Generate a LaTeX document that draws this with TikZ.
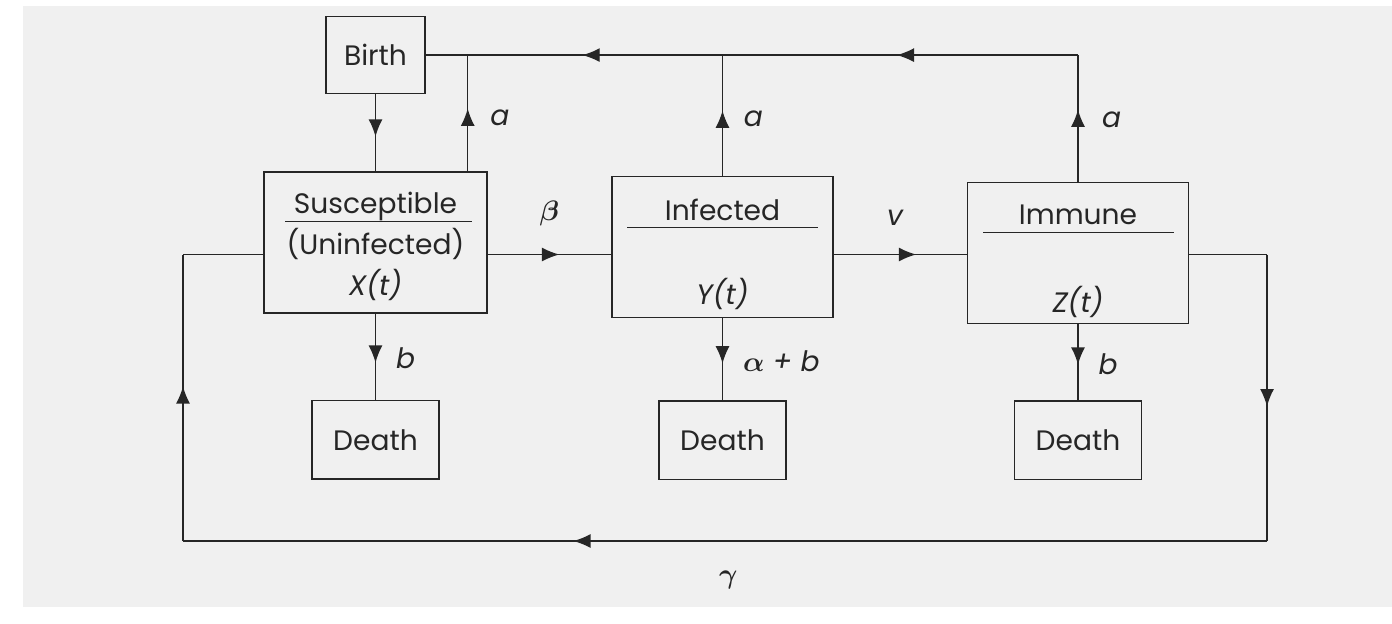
\documentclass[tikz,border=0pt]{standalone}
\usepackage{fontspec}
\setmainfont{Poppins}
\usepackage{xcolor}
\usepackage{tikz}
\usetikzlibrary{arrows.meta,positioning,decorations.markings}

\begin{document}
\begin{tikzpicture}[
  x=0.15mm, y=-0.15mm,
  font=\fontsize{12}{14}\selectfont,
  box/.style={rectangle,draw=black!85,line width=0.6pt,inner sep=0pt,text=black!85},
  comp/.style={box,minimum width=33.2mm,minimum height=21.2mm},
  small/.style={box,minimum width=19mm,minimum height=11.8mm},
  txt/.style={inner sep=0pt,text=black!85},
  rate/.style={font=\fontsize{12}{14}\selectfont\itshape\boldmath,inner sep=2pt,text=black!85},
  link/.style={draw=black!85,line width=0.6pt},
  flow/.style={link,postaction={decorate,decoration={markings,
      mark=at position #1 with {\arrow{Latex[length=2.6mm,width=2.1mm]}}}}},
  flow/.default=0.56
]

% page
\fill[black!6] (23,6) rectangle (1392,607);
\useasboundingbox (0,0) rectangle (1392,623);

% ===================== compartments =====================
\node[comp,minimum width=33.45mm,minimum height=21.15mm] (sus) at (375.5,242.5) {};
\node[comp] (inf) at (722.5,247) {};
\node[comp] (imm) at (1078,253) {};

\node[txt] (susname) at ([yshift=-5.25mm]sus.north) {Susceptible};
\draw[link] ([xshift=3.3mm,yshift=-7.5mm]sus.north west) -- ([xshift=-2.3mm,yshift=-7.5mm]sus.north east);
\node[txt] (susalt) at ([yshift=-10.95mm]sus.north) {(Uninfected)};
\node[rate] (susvar) at ([yshift=-17mm]sus.north) {X(t)};

\node[txt] (infname) at ([yshift=-5.1mm]inf.north) {Infected};
\draw[link] ([xshift=2.4mm,yshift=-7.8mm]inf.north west) -- ([xshift=-2.4mm,yshift=-7.8mm]inf.north east);
\node[rate] (infvar) at ([yshift=-17.8mm]inf.north) {Y(t)};

\node[txt] (immname) at ([yshift=-5mm]imm.north) {Immune};
\draw[link] ([xshift=2.5mm,yshift=-7.65mm]imm.north west) -- ([xshift=-2.3mm,yshift=-7.65mm]imm.north east);
\node[rate] (immvar) at ([yshift=-18mm]imm.north) {Z(t)};

% birth and death
\node[small,minimum width=14.85mm,minimum height=11.55mm,above=11.55mm of sus] (birth) {Birth};
\node[small,below=12.9mm of sus] (dsus) {Death};
\node[small,below=12.3mm of inf] (dinf) {Death};
\node[small,below=11.4mm of imm] (dimm) {Death};

% ===================== edges =====================
\coordinate (row) at (0,254.5);
\coordinate (top) at (birth.east);
\coordinate (susup) at ([xshift=-3mm]sus.north east);

% births from every class
\draw[flow=0.55] (birth) -- (sus);
\draw[flow=0.54] (susup) -- node[rate,pos=0.46,right=2.6mm]{a} (susup |- top);
\draw[flow=0.54] (inf) -- node[rate,pos=0.47,right=2.4mm]{a} (inf |- top);
\draw[flow=0.57] (imm) -- node[rate,pos=0.49,right=2.8mm]{a} (imm |- top);
\draw[flow=0.51] (imm |- top) -- (inf |- top);
\draw[flow=0.55] (inf |- top) -- (susup |- top);
\draw[link] (susup |- top) -- (top);

% infection and recovery
\draw[flow=0.58] (sus.east |- row) -- node[rate,midway,yshift=6.1mm]{$\beta$} (inf.west |- row);
\draw[flow=0.62] (inf.east |- row) -- node[rate,midway,yshift=5.5mm,xshift=-0.8mm]{v} (imm.west |- row);

% deaths
\draw[flow=0.57] (sus) -- node[rate,pos=0.52,right=2.3mm]{b} (dsus);
\draw[flow=0.55] (inf) -- node[rate,pos=0.52,right=2.3mm]{$\alpha$ + b} (dinf);
\draw[flow=0.53] (imm) -- node[rate,pos=0.52,right=2.3mm]{b} (dimm);

% loss of immunity
\coordinate (loopne) at (1267,254.5);
\coordinate (loopse) at (1267,541);
\coordinate (loopsw) at (183,541);
\coordinate (loopnw) at (183,254.5);
\draw[link] (imm.east |- row) -- (loopne);
\draw[flow=0.53] (loopne) -- (loopse);
\draw[flow=0.64] (loopse) -- node[rate,pos=0.497,yshift=-5.8mm]{$\gamma$} (loopsw);
\draw[flow=0.54] (loopsw) -- (loopnw);
\draw[link] (loopnw) -- (sus.west |- row);

\end{tikzpicture}
\end{document}
